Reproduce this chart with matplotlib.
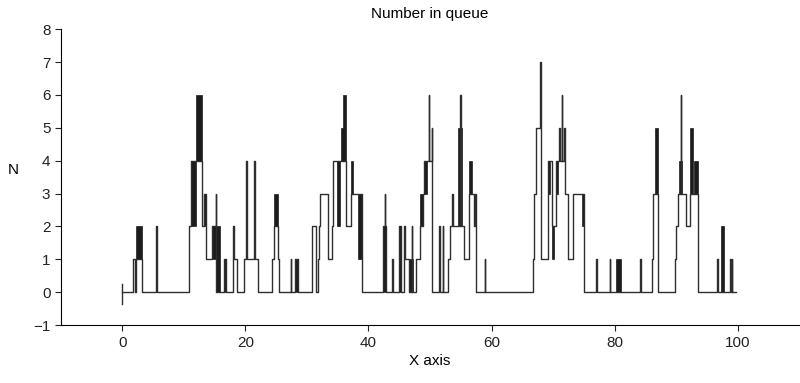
import matplotlib
matplotlib.use('Agg')
import matplotlib.pyplot as plt

plt.rcParams['font.family'] = ['Liberation Sans', 'DejaVu Sans']

# queue length: change times and the level held after each change
times = [0.0, 1.75, 2.0, 2.2, 3.2, 5.5, 5.56, 10.8, 11.1, 11.9, 13.0, 13.2, 13.65,
         14.6, 15.2, 15.26, 16.5, 16.8, 18.0, 18.2, 18.6, 19.8, 20.1, 20.2, 21.4,
         21.5, 22.1, 24.4, 24.6, 25.3, 25.4, 27.4, 27.46, 28.1, 28.5, 30.9, 31.4,
         31.8, 32.0, 32.2, 33.5, 34.0, 34.2, 35.4, 36.3, 37.1, 39.0, 42.3, 42.7,
         42.76, 42.9, 43.9, 43.96, 44.9, 45.3, 45.8, 45.86, 46.6, 47.0, 47.06,
         47.8, 48.3, 48.9, 49.1, 49.8, 49.86, 50.25, 50.3, 51.5, 51.56, 52.05,
         52.11, 53.0, 53.3, 53.6, 53.66, 54.9, 54.96, 55.5, 56.3, 57.15, 57.35,
         57.45, 58.9, 58.96, 66.7, 66.9, 67.2, 67.9, 67.96, 69.1, 69.8, 70.4,
         71.0, 71.06, 71.45, 71.51, 71.85, 71.91, 72.0, 72.5, 73.3, 75.0, 77.0,
         77.06, 79.2, 79.26, 84.2, 84.26, 86.0, 86.3, 87.0, 89.8, 90.0, 90.3,
         90.75, 90.81, 91.6, 92.2, 93.6, 96.7, 96.76, 98.8, 98.86, 99.1, 99.16,
         99.7]
levels = [0, 1, 0, 1, 0, 2, 0, 2, 4, 4, 2, 3, 1,
          2, 3, 0, 1, 0, 2, 1, 0, 1, 4, 1, 4,
          1, 0, 1, 2, 1, 0, 1, 0, 1, 0, 2, 0,
          1, 2, 3, 1, 2, 4, 4, 2, 3, 0, 2, 3,
          2, 0, 1, 0, 2, 0, 2, 1, 0, 2, 0,
          1, 2, 3, 4, 6, 4, 5, 0, 2, 0, 2,
          0, 1, 2, 3, 2, 6, 2, 1, 3, 2, 3,
          0, 1, 0, 1, 3, 5, 7, 1, 4, 2, 4,
          5, 4, 6, 4, 5, 4, 3, 1, 3, 0, 1,
          0, 1, 0, 1, 0, 1, 3, 0, 1, 2, 3,
          6, 3, 2, 3, 0, 1, 0, 1, 0, 1, 0,
          0]

# dense bursts that print as solid black blocks: start, end, low, high
burst_start = [2.3, 11.1, 11.9, 13.2, 14.6, 15.2, 16.5, 24.7, 28.1, 34.9, 35.5, 35.8,
               37.1, 38.3, 42.3, 44.9, 46.6, 48.3, 49.1, 54.5, 56.4, 69.1, 69.85,
               70.4, 74.7, 80.3, 86.6, 90.5, 92.2, 92.9, 97.3]
burst_end = [3.2, 11.9, 13.0, 13.6, 15.2, 15.9, 16.8, 25.3, 28.5, 35.4, 36.3, 36.3,
             37.5, 39.0, 42.9, 45.3, 47.3, 48.9, 49.5, 55.2, 56.8, 69.5, 70.2,
             70.8, 75.0, 81.0, 87.0, 90.9, 92.7, 93.5, 97.7]
burst_low = [1, 2, 4, 2, 1, 0, 0, 2, 0, 2, 4, 5,
             3, 1, 0, 0, 0, 2, 3, 2, 3, 3, 1,
             3, 2, 0, 3, 3, 3, 3, 0]
burst_high = [2, 4, 6, 3, 2, 2, 1, 3, 1, 4, 5, 6,
              4, 3, 2, 2, 1, 3, 4, 5, 4, 4, 2,
              4, 3, 1, 5, 4, 5, 4, 2]

start_mark = [-0.35, 0.25]

fig = plt.figure(figsize=(8, 3.83), dpi=100)
ax = fig.add_axes([0.076, 0.151, 0.923, 0.773])

ax.step(times, levels, where='post', color='#2e2e2e', linewidth=1.0)
ax.plot([0, 0], start_mark, color='#2e2e2e', linewidth=1.0)

widths = [e - s for s, e in zip(burst_start, burst_end)]
heights = [h - l for l, h in zip(burst_low, burst_high)]
ax.bar(burst_start, heights, width=widths, bottom=burst_low, align='edge',
       color='#1c1c1c', edgecolor='#1c1c1c', linewidth=0.5)

ax.set_xlim(-10, 110)
ax.set_ylim(-1, 8)
ax.set_xticks([0, 20, 40, 60, 80, 100])
ax.set_yticks(range(-1, 9))

ax.spines['top'].set_visible(False)
ax.spines['right'].set_visible(False)
ax.tick_params(direction='out', length=4, width=0.8, labelsize=11, colors='#222222')

ax.set_title('Number in queue', fontsize=11, pad=8)
ax.set_xlabel('X axis', fontsize=11, labelpad=3)
ax.set_ylabel('N', fontsize=11, rotation=0, labelpad=14)

fig.savefig('out.png', dpi=100)
